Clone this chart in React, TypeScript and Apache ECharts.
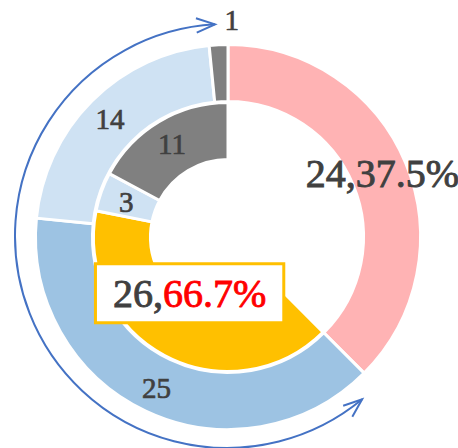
import React, { useEffect, useRef } from "react";
import * as echarts from "echarts";

// ---- data ----
const outerNames = ["A", "B", "C", "D"];
const outerValues = [24, 25, 14, 1];
const outerLabels = ["24,37.5%", "25", "14", "1"];

const innerNames = ["blank", "Y", "LB", "G"];
const innerValues = [24, 26, 3, 11];
const innerLabels = ["", "26,66.7%", "3", "11"];
const innerHighlightParts = ["26,", "66.7%"];

// ---- styles ----
const outerColors = ["#FFB3B4", "#9DC3E3", "#CFE2F3", "#808080"];
const innerColors = ["rgba(0,0,0,0)", "#FFC000", "#CFE2F3", "#808080"];
const FONT = "'Liberation Serif', 'Times New Roman', serif";
const TEXT = "#404040";
const CX = 228;
const CY = 237;

const outerOffsets: Record<number, [number, number]> = { 3: [12, -50] };
const innerOffsets: Record<number, [number, number]> = { 1: [13, -40], 2: [1, 2] };

function arrowHead(tip: [number, number], dir: [number, number], len: number, half: number) {
  const pts: number[][] = [];
  for (const s of [1, -1]) {
    const a = s * half;
    const c = Math.cos(a), sn = Math.sin(a);
    const rx = dir[0] * c - dir[1] * sn;
    const ry = dir[0] * sn + dir[1] * c;
    pts.push([tip[0] - len * rx, tip[1] - len * ry]);
  }
  return [pts[0], tip, pts[1]];
}

export default function App() {
  const ref = useRef<HTMLDivElement>(null);
  useEffect(() => {
    if (!ref.current) return;
    const chart = echarts.init(ref.current, undefined, { renderer: "svg" });

    const acx = 227, acy = 236, ar = 212;
    const ts = (50.4 * Math.PI) / 180;
    const te = (266.75 * Math.PI) / 180;
    const tipS: [number, number] = [acx + ar * Math.cos(ts), acy + ar * Math.sin(ts)];
    const tipE: [number, number] = [acx + ar * Math.cos(te), acy + ar * Math.sin(te)];
    const dirS: [number, number] = [Math.sin(ts), -Math.cos(ts)];
    const dirE: [number, number] = [-Math.sin(te), Math.cos(te)];
    const half = (21 * Math.PI) / 180;
    const lineStyle = { stroke: "#4472C4", lineWidth: 2, fill: null as any };
    const thick = { textBorderColor: TEXT, textBorderWidth: 0.7 };

    chart.setOption({
      animation: false,
      graphic: [
        {
          type: "arc",
          shape: { cx: acx, cy: acy, r: ar, startAngle: ts, endAngle: te, clockwise: true },
          style: { ...lineStyle },
          z: 10,
        },
        { type: "polyline", shape: { points: arrowHead(tipS, dirS, 20, half) }, style: { ...lineStyle }, z: 10 },
        { type: "polyline", shape: { points: arrowHead(tipE, dirE, 20, half) }, style: { ...lineStyle }, z: 10 },
      ],
      series: [
        {
          type: "pie",
          center: [CX, CY],
          radius: [135.5, 192.5],
          startAngle: 90,
          clockwise: true,
          avoidLabelOverlap: false,
          silent: true,
          itemStyle: { borderColor: "#fff", borderWidth: 3 },
          label: {
            show: true,
            position: "inside",
            fontFamily: FONT,
            color: TEXT,
            fontSize: 29,
            ...thick,
            formatter: (p: any) => outerLabels[p.dataIndex],
          },
          labelLayout: (p: any) => {
            const o = outerOffsets[p.dataIndex];
            return o ? { dx: o[0], dy: o[1] } : {};
          },
          data: outerValues.map((v, i) => ({
            name: outerNames[i],
            value: v,
            itemStyle: { color: outerColors[i] },
            label: i === 0 ? { fontSize: 40, textBorderWidth: 0.9 } : undefined,
          })),
        },
        {
          type: "pie",
          center: [CX, CY],
          radius: [77.5, 134.5],
          startAngle: 90,
          clockwise: true,
          avoidLabelOverlap: false,
          silent: true,
          itemStyle: { borderColor: "#fff", borderWidth: 3 },
          label: {
            show: true,
            position: "inside",
            fontFamily: FONT,
            color: TEXT,
            fontSize: 29,
            ...thick,
            formatter: (p: any) =>
              p.dataIndex === 1
                ? `{a|${innerHighlightParts[0]}}{b|${innerHighlightParts[1]}}`
                : innerLabels[p.dataIndex],
            rich: {
              a: { fontFamily: FONT, fontSize: 40, color: TEXT, lineHeight: 44, textBorderColor: TEXT, textBorderWidth: 0.9 },
              b: { fontFamily: FONT, fontSize: 40, color: "#FF0000", lineHeight: 44, textBorderColor: "#FF0000", textBorderWidth: 0.9 },
            },
          },
          labelLayout: (p: any) => {
            const o = innerOffsets[p.dataIndex];
            return o ? { dx: o[0], dy: o[1] } : {};
          },
          data: innerValues.map((v, i) => ({
            name: innerNames[i],
            value: v,
            itemStyle:
              i === 0
                ? { color: innerColors[i], borderWidth: 0 }
                : { color: innerColors[i] },
            label:
              i === 0
                ? { show: false }
                : i === 1
                ? {
                    backgroundColor: "#fff",
                    borderColor: "#FFC000",
                    borderWidth: 3,
                    padding: [6, 16, 6, 16],
                  }
                : undefined,
          })),
        },
      ],
    });
    return () => chart.dispose();
  }, []);
  return (
    <div
      ref={ref}
      style={{ position: "fixed", left: 0, top: 0, width: 458, height: 448, background: "#fff" }}
    />
  );
}
